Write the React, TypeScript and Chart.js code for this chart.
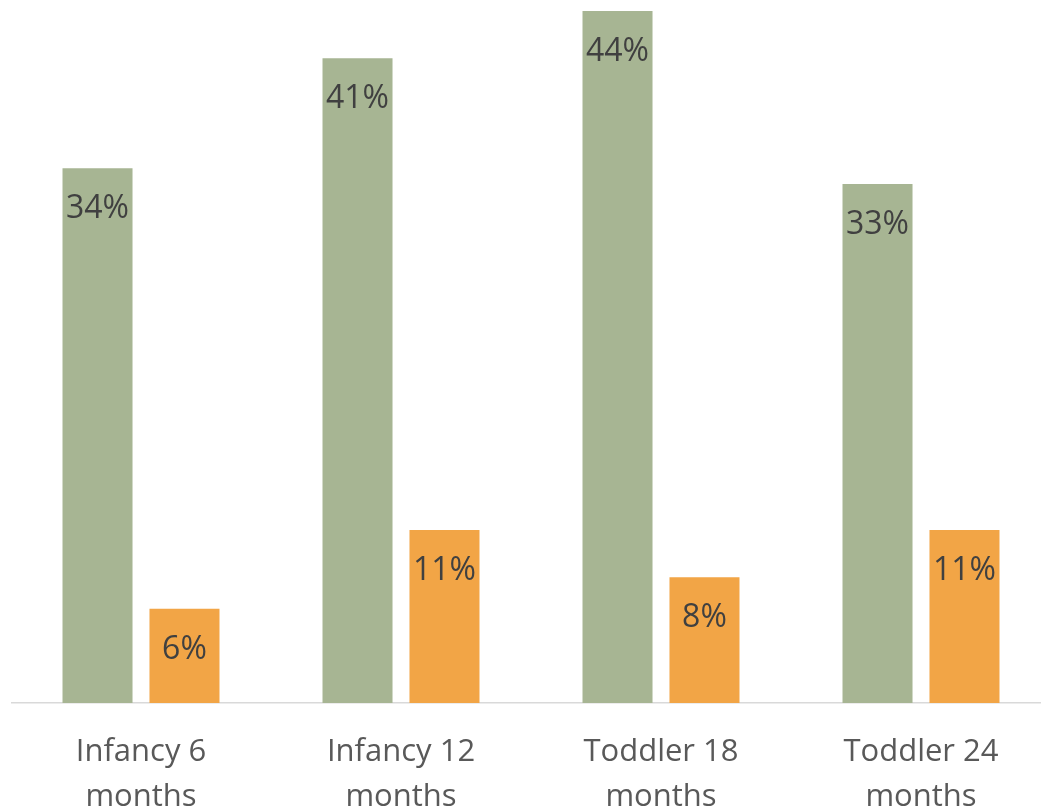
import React, { useEffect, useRef } from "react";
import { Chart, registerables } from "chart.js";

Chart.register(...registerables);

const categories: string[][] = [
  ["Infancy 6", "months"],
  ["Infancy 12", "months"],
  ["Toddler 18", "months"],
  ["Toddler 24", "months"],
];
const seriesA: number[] = [34, 41, 44, 33];
const seriesB: number[] = [6, 11, 8, 11];

const FONT = "'Open Sans', sans-serif";

const labelPlugin = {
  id: "barLabels",
  afterDatasetsDraw(chart: any) {
    const ctx = chart.ctx;
    ctx.save();
    ctx.font = `32px ${FONT}`;
    ctx.fillStyle = "#404040";
    ctx.textAlign = "center";
    ctx.textBaseline = "middle";
    chart.data.datasets.forEach((ds: any, di: number) => {
      const meta = chart.getDatasetMeta(di);
      meta.data.forEach((bar: any, i: number) => {
        ctx.fillText(`${ds.data[i]}%`, bar.x, bar.y + 41);
      });
    });
    ctx.restore();
  },
};

export default function App() {
  const ref = useRef<HTMLCanvasElement>(null);
  useEffect(() => {
    document.body.style.margin = "0";
    document.body.style.overflow = "hidden";
    const chart = new Chart(ref.current!, {
      type: "bar",
      data: {
        labels: categories,
        datasets: [
          { label: "A", data: seriesA, backgroundColor: "#A7B593" },
          { label: "B", data: seriesB, backgroundColor: "#F2A546" },
        ],
      },
      options: {
        animation: false,
        responsive: false,
        maintainAspectRatio: false,
        layout: { padding: 0 },
        plugins: { legend: { display: false }, tooltip: { enabled: false } },
        datasets: {
          bar: { categoryPercentage: 0.669, barPercentage: 0.805 },
        },
        scales: {
          x: {
            grid: { display: false, drawTicks: false },
            border: { display: true, color: "#D9D9D9", width: 1.5 },
            afterFit: (scale: any) => {
              scale.height = 109;
            },
            ticks: {
              color: "#595959",
              font: { family: FONT, size: 31, lineHeight: 1.45 },
              padding: 27,
              maxRotation: 0,
              autoSkip: false,
            },
          },
          y: {
            display: false,
            min: 0,
            max: 44.7,
          },
        },
      },
      plugins: [labelPlugin],
    });
    return () => chart.destroy();
  }, []);
  return (
    <div style={{ position: "fixed", left: 0, top: 0, width: 1041, height: 812, overflow: "hidden", background: "#fff" }}>
      <canvas ref={ref} width={1040} height={812} style={{ position: "absolute", left: 11, top: 0, width: 1040, height: 812 }} />
    </div>
  );
}
